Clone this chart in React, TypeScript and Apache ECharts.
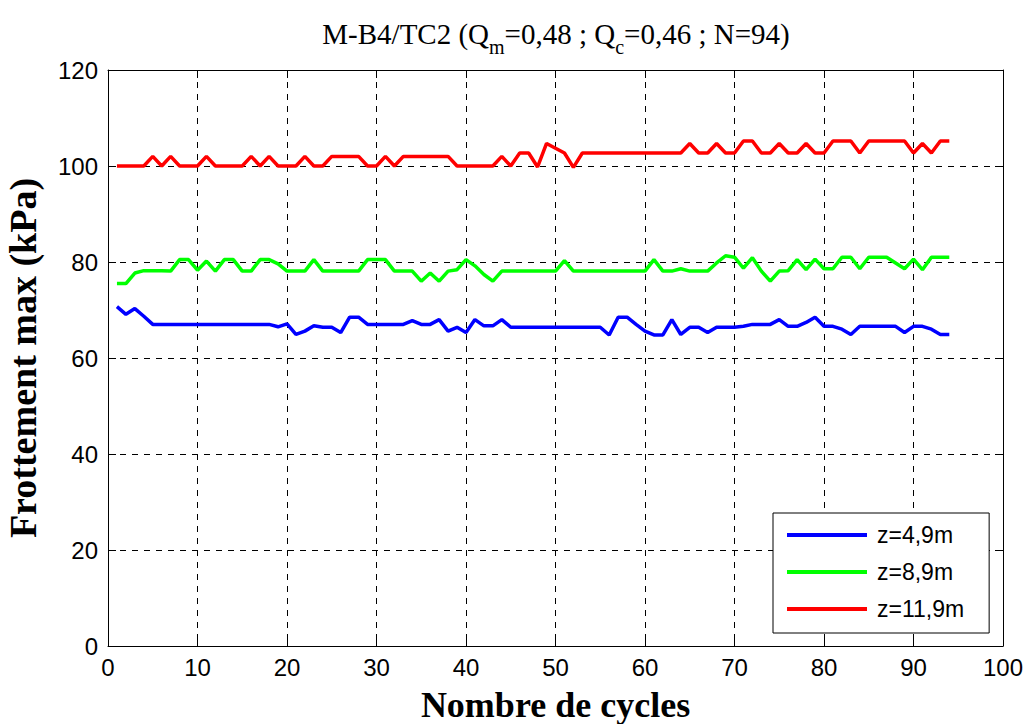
import React, { useEffect, useRef } from "react";
import * as echarts from "echarts";

const cycles = [
  1, 2, 3, 4, 5, 6, 7, 8, 9, 10, 11, 12, 13, 14, 15, 16, 17, 18, 19, 20,
  21, 22, 23, 24, 25, 26, 27, 28, 29, 30, 31, 32, 33, 34, 35, 36, 37, 38, 39, 40,
  41, 42, 43, 44, 45, 46, 47, 48, 49, 50, 51, 52, 53, 54, 55, 56, 57, 58, 59, 60,
  61, 62, 63, 64, 65, 66, 67, 68, 69, 70, 71, 72, 73, 74, 75, 76, 77, 78, 79, 80,
  81, 82, 83, 84, 85, 86, 87, 88, 89, 90, 91, 92, 93, 94,
];

const seriesNames = ["z=4,9m", "z=8,9m", "z=11,9m"];

const blueZ49 = [
  70.7, 69.1, 70.3, 68.7, 67.0, 67.0, 67.0, 67.0, 67.0, 67.0,
  67.0, 67.0, 67.0, 67.0, 67.0, 67.0, 67.0, 67.0, 66.5, 67.1,
  64.9, 65.6, 66.7, 66.4, 66.4, 65.3, 68.5, 68.5, 67.0, 67.0,
  67.0, 67.0, 67.0, 67.8, 67.0, 67.0, 68.0, 65.6, 66.4, 65.3,
  68.0, 66.7, 66.7, 68.0, 66.4, 66.4, 66.4, 66.4, 66.4, 66.4,
  66.4, 66.4, 66.4, 66.4, 66.4, 64.8, 68.5, 68.5, 67.0, 65.6,
  64.8, 64.8, 68.0, 64.9, 66.4, 66.4, 65.3, 66.4, 66.4, 66.4,
  66.6, 67.0, 67.0, 67.0, 68.0, 66.6, 66.6, 67.4, 68.5, 66.6,
  66.6, 66.0, 64.9, 66.6, 66.6, 66.6, 66.6, 66.6, 65.3, 66.6,
  66.6, 66.0, 64.9, 64.9,
];

const greenZ89 = [
  75.5, 75.5, 77.7, 78.2, 78.2, 78.2, 78.1, 80.5, 80.5, 78.3,
  80.2, 78.1, 80.5, 80.5, 78.1, 78.1, 80.5, 80.5, 79.6, 78.1,
  78.1, 78.1, 80.5, 78.1, 78.1, 78.1, 78.1, 78.1, 80.5, 80.5,
  80.5, 78.1, 78.1, 78.1, 76.0, 77.7, 76.0, 78.1, 78.4, 80.5,
  79.2, 77.4, 76.0, 78.1, 78.1, 78.1, 78.1, 78.1, 78.1, 78.1,
  80.3, 78.1, 78.1, 78.1, 78.1, 78.1, 78.1, 78.1, 78.1, 78.1,
  80.5, 78.1, 78.1, 78.6, 78.1, 78.1, 78.1, 79.8, 81.3, 81.0,
  78.7, 80.9, 78.1, 76.0, 78.1, 78.2, 80.5, 78.4, 80.6, 78.6,
  78.6, 81.0, 81.0, 78.6, 81.0, 81.0, 81.0, 79.8, 78.6, 80.6,
  78.4, 81.0, 81.0, 81.0,
];

const redZ119 = [
  100, 100, 100, 100, 102, 100, 102, 100, 100, 100,
  102, 100, 100, 100, 100, 102, 100, 102, 100, 100,
  100, 102, 100, 100, 102, 102, 102, 102, 100, 100,
  102, 100, 102, 102, 102, 102, 102, 102, 100, 100,
  100, 100, 100, 102, 100, 102.7, 102.7, 99.8, 104.7, 103.7,
  102.7, 99.7, 102.7, 102.7, 102.7, 102.7, 102.7, 102.7, 102.7, 102.7,
  102.7, 102.7, 102.7, 102.7, 104.7, 102.7, 102.7, 104.7, 102.7, 102.7,
  105.2, 105.2, 102.7, 102.7, 104.7, 102.7, 102.7, 104.7, 102.7, 102.7,
  105.2, 105.2, 105.2, 102.7, 105.2, 105.2, 105.2, 105.2, 105.2, 102.7,
  104.7, 102.7, 105.2, 105.2,
];

const seriesColors = ["#0000ff", "#00ff00", "#ff0000"];

const SERIF = "'Liberation Serif', 'Times New Roman', serif";
const SANS = "'Liberation Sans', Arial, sans-serif";

export default function App() {
  const ref = useRef<HTMLDivElement>(null);

  useEffect(() => {
    if (!ref.current) return;
    const chart = echarts.init(ref.current, null, { renderer: "svg" });
    const values = [blueZ49, greenZ89, redZ119];

    const option: any = {
      animation: false,
      backgroundColor: "#ffffff",
      title: {
        text: "{a|M-B4/TC2 (Q}{s|m}{a|=0,48 ; Q}{s|c}{a|=0,46 ; N=94)}",
        left: 556,
        top: 19,
        textAlign: "center",
        padding: 0,
        textStyle: {
          fontWeight: "normal",
          fontFamily: SERIF,
          rich: {
            a: { fontFamily: SERIF, fontWeight: "normal", fontSize: 29, color: "#000", lineHeight: 29, verticalAlign: "top" },
            s: { fontFamily: SERIF, fontWeight: "normal", fontSize: 20, color: "#000", lineHeight: 38, verticalAlign: "bottom" },
          },
        },
      },
      grid: {
        left: 108,
        right: 23,
        top: 70,
        bottom: 78,
        containLabel: false,
        outerBoundsMode: "none",
        show: false,
      },
      legend: {
        orient: "vertical",
        left: 773,
        top: 513,
        padding: [10, 25, 12, 14],
        itemGap: 13,
        itemWidth: 80,
        itemHeight: 4,
        icon: "rect",
        borderColor: "#000",
        borderWidth: 1,
        borderRadius: 0,
        backgroundColor: "#ffffff",
        selectedMode: false,
        data: seriesNames,
        textStyle: { fontFamily: SANS, fontSize: 23, color: "#000", lineHeight: 24, padding: [0, 0, 0, 5] },
      },
      xAxis: [
        {
          type: "value",
          min: 0,
          max: 100,
          interval: 10,
          position: "bottom",
          name: "Nombre de cycles",
          nameLocation: "middle",
          nameGap: 41,
          nameTextStyle: { fontFamily: SERIF, fontSize: 36, fontWeight: "bold", color: "#000" },
          axisLine: { show: true, onZero: false, lineStyle: { color: "#000", width: 1 } },
          axisTick: { show: true, inside: true, length: 8, lineStyle: { color: "#000" } },
          axisLabel: { show: true, margin: 9, fontFamily: SANS, fontSize: 24, color: "#000" },
          splitLine: { show: true, lineStyle: { color: "#000", width: 1, type: [6, 6] } },
        },
        {
          type: "value",
          min: 0,
          max: 100,
          interval: 10,
          position: "top",
          axisLine: { show: true, onZero: false, lineStyle: { color: "#000", width: 1 } },
          axisTick: { show: true, inside: true, length: 8, lineStyle: { color: "#000" } },
          axisLabel: { show: false },
          splitLine: { show: false },
        },
      ],
      yAxis: [
        {
          type: "value",
          min: 0,
          max: 120,
          interval: 20,
          position: "left",
          name: "Frottement max (kPa)",
          nameLocation: "middle",
          nameGap: 66,
          nameTextStyle: { fontFamily: SERIF, fontSize: 38, fontWeight: "bold", color: "#000" },
          axisLine: { show: true, onZero: false, lineStyle: { color: "#000", width: 1 } },
          axisTick: { show: true, inside: true, length: 8, lineStyle: { color: "#000" } },
          axisLabel: { show: true, margin: 10, fontFamily: SANS, fontSize: 24, color: "#000" },
          splitLine: { show: true, lineStyle: { color: "#000", width: 1, type: [6, 6] } },
        },
        {
          type: "value",
          min: 0,
          max: 120,
          interval: 20,
          position: "right",
          axisLine: { show: true, onZero: false, lineStyle: { color: "#000", width: 1 } },
          axisTick: { show: true, inside: true, length: 8, lineStyle: { color: "#000" } },
          axisLabel: { show: false },
          splitLine: { show: false },
        },
      ],
      series: seriesNames.map((name, k) => ({
        name,
        type: "line",
        xAxisIndex: 0,
        yAxisIndex: 0,
        showSymbol: false,
        symbol: "none",
        color: seriesColors[k],
        lineStyle: { color: seriesColors[k], width: 3.5 },
        data: cycles.map((c, i) => [c, values[k][i]]),
      })),
    };

    chart.setOption(option);
    return () => chart.dispose();
  }, []);

  return (
    <div
      ref={ref}
      style={{ position: "fixed", left: 0, top: 0, width: 1026, height: 724, background: "#fff" }}
    />
  );
}
